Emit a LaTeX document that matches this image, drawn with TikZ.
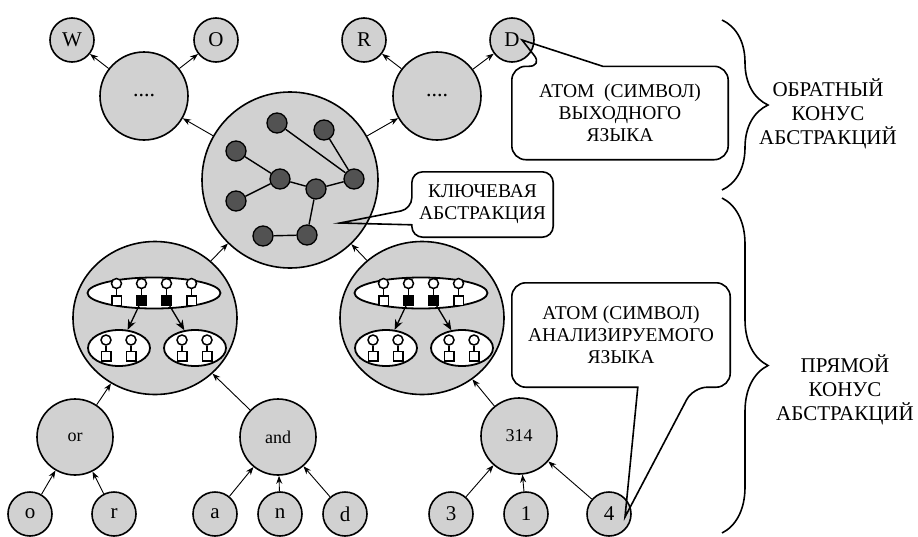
\documentclass[tikz,border=0pt]{standalone}
\usepackage{fontspec}
\setmainfont{Liberation Serif}
\usetikzlibrary{arrows.meta,shapes.geometric,decorations.pathreplacing}

\tikzset{
  atom/.style={circle, draw, line width=1.6pt, fill=black!18, minimum size=44pt, inner sep=0pt, font=\fontsize{21}{21}\selectfont},
  word/.style={atom, minimum size=76pt, font=\fontsize{18}{18}\selectfont},
  group/.style={atom, minimum size=88pt},
  tree/.style={ellipse, draw, line width=1.6pt, fill=black!18, minimum width=164pt, minimum height=153pt, inner sep=0pt},
  dot/.style={circle, draw, line width=1.3pt, fill=black!68, minimum size=20pt, inner sep=0pt},
  arr/.style={-{Stealth[length=8pt,width=6pt]}, line width=0.9pt},
  inarr/.style={-{Stealth[length=10pt,width=8pt]}, line width=1.3pt},
  link/.style={line width=1.4pt},
  bubble/.style={line width=1.6pt},
  set/.style={ellipse, draw, line width=1.8pt, fill=white, inner sep=0pt},
  pinhead/.style={circle, draw, line width=1.5pt, fill=white, minimum size=10pt, inner sep=0pt},
  pinbase/.style={rectangle, draw, line width=1.5pt, minimum size=9.5pt, inner sep=0pt},
  label/.style={align=center, inner sep=0pt, font=\fontsize{19.5}{22}\selectfont},
  cone/.style={line width=1.6pt, decorate, decoration={brace, amplitude=46pt}},
}

\begin{document}
\begin{tikzpicture}[x=1pt, y=-1pt]
\useasboundingbox (0,0) rectangle (918,536);

% output side
\node[atom] (W) at (72,40) {W};
\node[atom] (O) at (216,40) {O};
\node[atom] (R) at (364,40) {R};
\node[atom] (D) at (512,40) {D};
\node[group, font=\fontsize{22}{22}\selectfont] (dotsL) at (144,96) {....};
\node[group, font=\fontsize{22}{22}\selectfont] (dotsR) at (437,96) {....};

% key abstraction
\node[atom, minimum size=176pt] (key) at (290,180) {};
\node[dot] (k1) at (277,123) {};
\node[dot] (k2) at (324,130) {};
\node[dot] (k3) at (236,151) {};
\node[dot] (k4) at (280,179) {};
\node[dot] (k5) at (316,189) {};
\node[dot] (k6) at (354,179) {};
\node[dot] (k7) at (236,201) {};
\node[dot] (k8) at (263,236) {};
\node[dot] (k9) at (307,235) {};
\foreach \a/\b in {k1/k6,k2/k6,k3/k4,k4/k5,k4/k7,k5/k6,k5/k9,k8/k9}
  \draw[link] (\a) -- (\b);

% parsing side
\foreach \cx/\nm in {155/L,422/R} {
  \node[tree] (tree\nm) at (\cx,318) {};
  \begin{scope}[shift={(\cx,318)}]
    \node[set, minimum width=133pt, minimum height=31pt] (row\nm) at (-1,-25) {};
    \node[set, minimum width=62pt, minimum height=36pt] (left\nm) at (-36,30) {};
    \node[set, minimum width=62pt, minimum height=36pt] (right\nm) at (40,30) {};
    \foreach \p/\f [count=\i] in {-38.5/white,-13.5/black,11.5/black,36.5/white} {
      \node[pinhead] (h\i\nm) at (\p,-34.5) {};
      \node[pinbase, fill=\f] (b\i\nm) at (\p,-17.5) {};
      \draw[line width=1.5pt] (h\i\nm) -- (b\i\nm);
    }
    \foreach \p [count=\i] in {-49,-24,27,52} {
      \node[pinhead] (sh\i\nm) at (\p,22) {};
      \node[pinbase, fill=white] (sb\i\nm) at (\p,38) {};
      \draw[line width=1.5pt] (sh\i\nm) -- (sb\i\nm);
    }
    \draw[inarr] (b2\nm) -- (left\nm);
    \draw[inarr] (b3\nm) -- (right\nm);
  \end{scope}
}

\node[word] (wOr) at (75,437) {or};
\node[word] (wAnd) at (278,437) {and};
\node[word] (wNum) at (519,436) {314};
\node[atom] (lo) at (30,514) {o};
\node[atom] (lr) at (114,514) {r};
\node[atom] (la) at (215,514) {a};
\node[atom] (ln) at (280,514) {n};
\node[atom] (ld) at (345,514) {d};
\node[atom] (l3) at (451,514) {3};
\node[atom] (l1) at (526,514) {1};
\node[atom] (l4) at (609,514) {4};

% arrows
\draw[arr] (dotsL) -- (W);
\draw[arr] (dotsL) -- (O);
\draw[arr] (dotsR) -- (R);
\draw[arr] (dotsR) -- (D);
\draw[arr] (key) -- (dotsL);
\draw[arr] (key) -- (dotsR);
\draw[arr] (treeL) -- (key);
\draw[arr] (treeR) -- (key);
\draw[arr] (wOr) -- (treeL);
\draw[arr] (wAnd) -- (treeL);
\draw[arr] (wNum) -- (treeR);
\draw[arr] (lo) -- (wOr);
\draw[arr] (lr) -- (wOr);
\draw[arr] (la) -- (wAnd);
\draw[arr] (ln) -- (wAnd);
\draw[arr] (ld) -- (wAnd);
\draw[arr] (l3) -- (wNum);
\draw[arr] (l1) -- (wNum);
\draw[arr] (l4) -- (wNum);

% callouts
\node[label, minimum width=216pt, minimum height=93pt] (outAtom) at (620,113) {АТОМ\ \ (СИМВОЛ)\\ВЫХОДНОГО\\ЯЗЫКА};
\coordinate (outTip) at ([xshift=10pt]D.center);
\draw[bubble] (outAtom.south west) [rounded corners=14pt] -- (outAtom.north west)
  -- ([xshift=31pt]outAtom.north west) [sharp corners] -- (outTip)
  -- ([xshift=91pt]outAtom.north west) [rounded corners=14pt] -- (outAtom.north east)
  -- (outAtom.south east) -- cycle;

\node[label, minimum width=141pt, minimum height=65pt] (keyText) at (482.5,204.5) {КЛЮЧЕВАЯ\\АБСТРАКЦИЯ};
\coordinate (keyTip) at (340,223);
\draw[bubble] (keyText.north east) [rounded corners=11pt] -- (keyText.north west)
  -- ([yshift=-37pt]keyText.north west) [sharp corners] -- (keyTip)
  -- ([yshift=-53pt]keyText.north west) [rounded corners=11pt] -- (keyText.south west)
  -- (keyText.south east) -- cycle;

\node[label, minimum width=218pt, minimum height=104pt] (inAtom) at (621,335) {АТОМ (СИМВОЛ)\\АНАЛИЗИРУЕМОГО\\ЯЗЫКА};
\coordinate (inTip) at ([xshift=16pt,yshift=-3pt]l4.center);
\draw[bubble] (inAtom.south west) [rounded corners=14pt] -- (inAtom.north west)
  -- (inAtom.north east) -- (inAtom.south east)
  -- ([xshift=-37pt]inAtom.south east) [sharp corners] -- (inTip)
  -- ([xshift=126pt]inAtom.south west) [rounded corners=14pt] -- cycle;

% cones
\draw[cone] (722,20) -- (722,190);
\draw[cone] (722,198) -- (722,533);
\node[label, font=\fontsize{21}{24}\selectfont] (coneBack) at (828,114) {ОБРАТНЫЙ\\КОНУС\\АБСТРАКЦИЙ};
\node[label, font=\fontsize{21}{24}\selectfont] (coneFwd) at (845,390) {ПРЯМОЙ\\КОНУС\\АБСТРАКЦИЙ};
\end{tikzpicture}
\end{document}
